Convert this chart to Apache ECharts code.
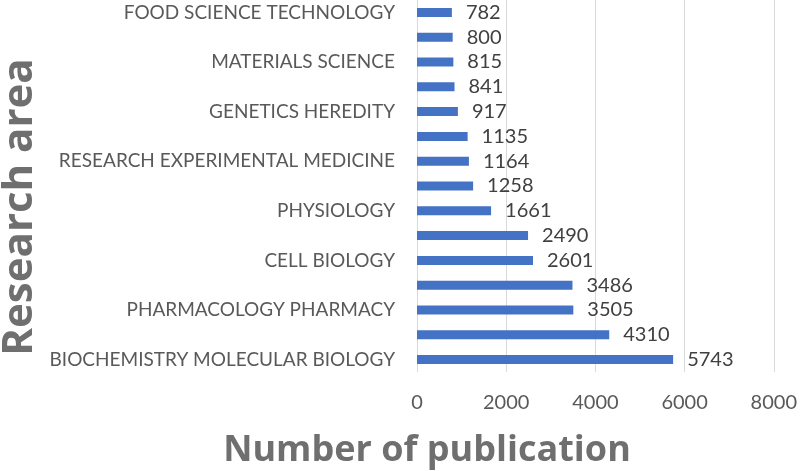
<!DOCTYPE html>
<html>
<head>
<meta charset="utf-8">
<script src="https://cdn.jsdelivr.net/npm/echarts@6/dist/echarts.min.js"></script>
<style>html,body{margin:0;padding:0;background:#fff}#c{width:800px;height:471px}</style>
</head>
<body>
<div id="c"></div>
<script>
// categories bottom-to-top; hidden (unlabelled) categories are empty strings
const categories = [
  'BIOCHEMISTRY MOLECULAR BIOLOGY', '', 'PHARMACOLOGY PHARMACY', '', 'CELL BIOLOGY', '',
  'PHYSIOLOGY', '', 'RESEARCH EXPERIMENTAL MEDICINE', '', 'GENETICS HEREDITY', '',
  'MATERIALS SCIENCE', '', 'FOOD SCIENCE TECHNOLOGY'
];
const publications = [5743, 4310, 3505, 3486, 2601, 2490, 1661, 1258, 1164, 1135, 917, 841, 815, 800, 782];
const xTicks = [0, 2000, 4000, 6000, 8000];
const yTitle = 'Research area';
const xTitle = 'Number of publication';

const FONT = 'Lato, "Open Sans", sans-serif';
const TFONT = '"Open Sans", Lato, sans-serif';
const chart = echarts.init(document.getElementById('c'));
chart.setOption({
  animation: false,
  backgroundColor: '#ffffff',
  grid: { left: 417, right: 22, top: 0, bottom: 99, containLabel: false },
  xAxis: {
    type: 'value', min: xTicks[0], max: xTicks[xTicks.length - 1], interval: xTicks[1] - xTicks[0],
    axisLine: { show: false }, axisTick: { show: false },
    splitLine: { show: true, lineStyle: { color: '#d9d9d9', width: 1 } },
    axisLabel: { color: '#595959', fontSize: 20, fontFamily: FONT, margin: 21, formatter: v => String(v) }
  },
  yAxis: {
    type: 'category', data: categories,
    axisLine: { show: false }, axisTick: { show: false },
    axisLabel: { interval: 0, color: '#595959', fontSize: 19, fontFamily: FONT, margin: 22 }
  },
  series: [{
    type: 'bar', data: publications, barWidth: 9,
    itemStyle: { color: '#4472C4' },
    label: { show: true, position: 'right', distance: 14, color: '#404040', fontSize: 20, fontFamily: FONT }
  }],
  graphic: [
    { type: 'text', x: 20, y: 207, rotation: Math.PI / 2,
      style: { text: yTitle, fill: '#6f6f6f', font: 'bold 42px ' + TFONT, align: 'center', verticalAlign: 'middle' } },
    { type: 'text', x: 427, y: 451,
      style: { text: xTitle, fill: '#6f6f6f', font: 'bold 36px ' + TFONT, align: 'center', verticalAlign: 'middle' } }
  ]
});
</script>
</body>
</html>
